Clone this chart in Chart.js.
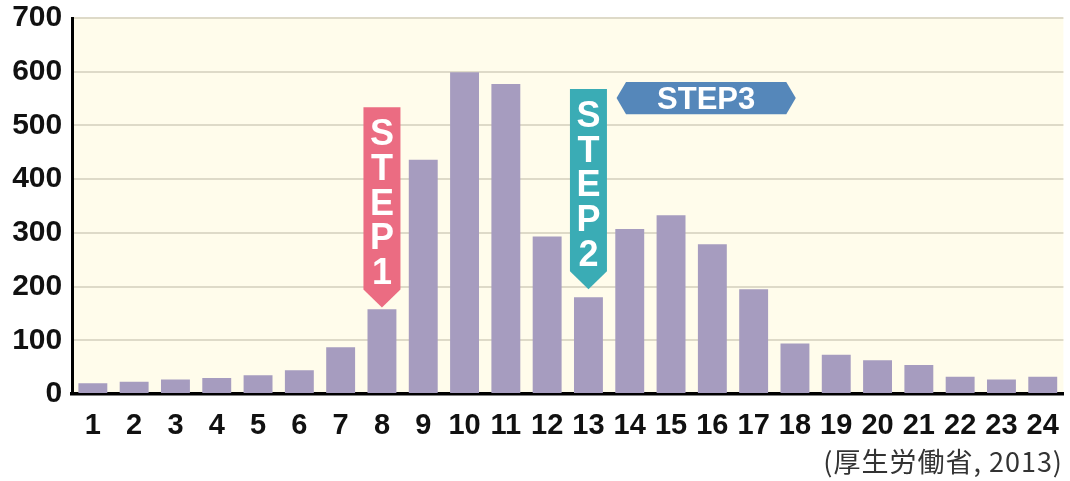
<!DOCTYPE html>
<html>
<head>
<meta charset="utf-8">
<script src="https://cdn.jsdelivr.net/npm/chart.js@4/dist/chart.umd.min.js"></script>
<style>
  html, body { margin: 0; padding: 0; background: #ffffff; }
  #wrap { position: relative; width: 1070px; height: 481px; }
</style>
</head>
<body>
<div id="wrap"><canvas id="c"></canvas></div>
<script>
// ---- data ----
const hours = ['1','2','3','4','5','6','7','8','9','10','11','12','13','14','15','16','17','18','19','20','21','22','23','24'];
const cases = [20, 23, 27, 30, 35, 44, 87, 158, 436, 599, 577, 293, 180, 307, 333, 279, 195, 94, 73, 63, 54, 32, 27, 32];
const yTicks = [0, 100, 200, 300, 400, 500, 600, 700];
const sourceNote = '(厚生労働省, 2013)';

// step markers
const stepLabels = ['STEP1', 'STEP2'];
const stepIndex = [7, 12];          // category index the arrow points to
const stepTopValue = [534, 568];    // top of arrow (value units)
const stepTipValue = [161, 195];    // arrow tip (value units)
const stepColors = ['#EB6C82', '#3AACB5'];
const step3Label = 'STEP3';
const step3Range = [12.68, 17.02];  // category range
const step3Values = [521, 581];     // value band
const step3Color = '#5587BA';

const barColor = '#A69CBF';
const plotBg = '#FFFCEB';
const gridColor = '#DEDAC8';

const bgPlugin = {
  id: 'plotBg',
  beforeDraw(chart) {
    const {ctx, chartArea: a} = chart;
    ctx.save();
    ctx.fillStyle = plotBg;
    ctx.fillRect(a.left, a.top, a.right - a.left, a.bottom - a.top);
    ctx.restore();
  }
};

const stepPlugin = {
  id: 'steps',
  afterDatasetsDraw(chart) {
    const {ctx} = chart;
    const xs = chart.scales.x, ys = chart.scales.y;
    ctx.save();
    // vertical arrows
    stepLabels.forEach((lab, i) => {
      const cx = xs.getPixelForValue(stepIndex[i]);
      const half = 18.5;
      const top = ys.getPixelForValue(stepTopValue[i]);
      const tip = ys.getPixelForValue(stepTipValue[i]);
      const shoulder = tip - 18;
      ctx.beginPath();
      ctx.moveTo(cx - half, top);
      ctx.lineTo(cx + half, top);
      ctx.lineTo(cx + half, shoulder);
      ctx.lineTo(cx, tip);
      ctx.lineTo(cx - half, shoulder);
      ctx.closePath();
      ctx.fillStyle = stepColors[i];
      ctx.fill();
      ctx.fillStyle = '#ffffff';
      ctx.font = 'bold 36px "Liberation Sans", Arial, sans-serif';
      ctx.textAlign = 'center';
      ctx.textBaseline = 'alphabetic';
      const chars = lab.split('');
      chars.forEach((ch, k) => {
        ctx.fillText(ch, cx, top + 12 + 26 + k * 34.7);
      });
    });
    // horizontal hexagon STEP3
    const l = xs.getPixelForValue(step3Range[0]);
    const r = xs.getPixelForValue(step3Range[1]);
    const t = ys.getPixelForValue(step3Values[1]);
    const b = ys.getPixelForValue(step3Values[0]);
    const m = (t + b) / 2;
    const d = 9.5;
    ctx.beginPath();
    ctx.moveTo(l, m);
    ctx.lineTo(l + d, t);
    ctx.lineTo(r - d, t);
    ctx.lineTo(r, m);
    ctx.lineTo(r - d, b);
    ctx.lineTo(l + d, b);
    ctx.closePath();
    ctx.fillStyle = step3Color;
    ctx.fill();
    ctx.fillStyle = '#ffffff';
    ctx.font = 'bold 31px "Liberation Sans", Arial, sans-serif';
    ctx.textAlign = 'center';
    ctx.textBaseline = 'alphabetic';
    ctx.fillText(step3Label, (l + r) / 2, m + 11);
    ctx.restore();
  }
};

const notePlugin = {
  id: 'note',
  afterDraw(chart) {
    const {ctx} = chart;
    ctx.save();
    ctx.fillStyle = '#333333';
    ctx.font = '27px "Noto Sans CJK JP", sans-serif';
    try { ctx.letterSpacing = '1px'; } catch (e) {}
    ctx.textAlign = 'right';
    ctx.textBaseline = 'alphabetic';
    ctx.fillText(sourceNote, 1063, 472);
    ctx.restore();
  }
};

new Chart(document.getElementById('c'), {
  type: 'bar',
  data: {
    labels: hours,
    datasets: [{
      data: cases,
      backgroundColor: barColor,
      borderWidth: 0,
      categoryPercentage: 1.0,
      barPercentage: 0.70
    }]
  },
  options: {
    responsive: true,
    maintainAspectRatio: false,
    animation: false,
    devicePixelRatio: 1,
    layout: { padding: { top: 18, right: 6.6, bottom: 0, left: 0 } },
    plugins: { legend: { display: false }, tooltip: { enabled: false }, title: { display: false } },
    scales: {
      x: {
        grid: { display: false },
        border: { display: true, color: '#000000', width: 3.5 },
        ticks: {
          color: '#111111',
          padding: 7,
          maxRotation: 0,
          autoSkip: false,
          font: { family: '"Liberation Sans", Arial, sans-serif', size: 29, weight: 'bold' }
        },
        afterFit(s) { s.height = 87; s.paddingLeft = 0; s.paddingRight = 0; }
      },
      y: {
        min: 0,
        max: 700,
        afterBuildTicks(s) { s.ticks = yTicks.map(v => ({ value: v })); },
        grid: { color: gridColor, lineWidth: 2, drawTicks: false },
        border: { display: true, color: '#000000', width: 3 },
        ticks: {
          color: '#111111',
          padding: 10,
          font: { family: '"Liberation Sans", Arial, sans-serif', size: 30, weight: 'bold' }
        },
        afterFit(s) { s.width = 72.2; s.paddingTop = 0; s.paddingBottom = 0; }
      }
    }
  },
  plugins: [bgPlugin, stepPlugin, notePlugin]
});
</script>
</body>
</html>
